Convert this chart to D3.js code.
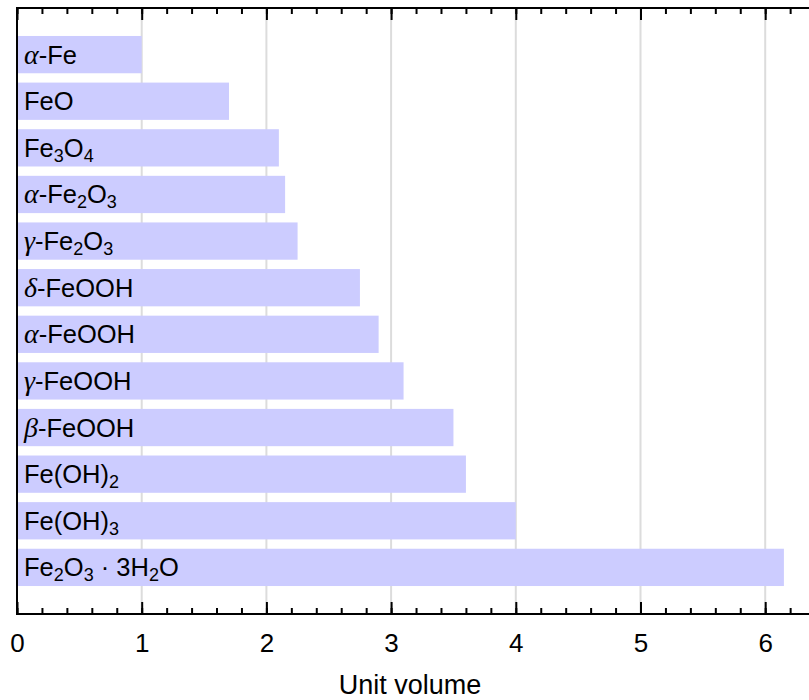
<!DOCTYPE html>
<html>
<head>
<meta charset="utf-8">
<script src="https://cdn.jsdelivr.net/npm/d3@7"></script>
<style>
  body { margin: 0; background: #fff; }
  svg { display: block; font-family: 'Liberation Sans', Arial, sans-serif; }
</style>
</head>
<body>
<div class="chart"></div>
<script>
// categories, top to bottom ("_n" = subscript, greek letters drawn in math italic)
const compounds = [
    'α-Fe', 'FeO', 'Fe_3O_4', 'α-Fe_2O_3', 'γ-Fe_2O_3', 'δ-FeOOH',
    'α-FeOOH', 'γ-FeOOH', 'β-FeOOH', 'Fe(OH)_2', 'Fe(OH)_3', 'Fe_2O_3 · 3H_2O'
];
// unit volume relative to alpha-iron
const unitVolume = [1.0, 1.7, 2.1, 2.15, 2.25, 2.75, 2.9, 3.1, 3.5, 3.6, 4.0, 6.15];
const majorTicks = [0, 1, 2, 3, 4, 5, 6];
const minorTicks = d3.range(0, 63, 2).map(d => d / 10);

const svg_width = 809;
const svg_height = 700;
const plot = { left: 17, right: 809, top: 8, bottom: 614 };

const svg = d3.select('.chart').append('svg')
    .attr('width', svg_width).attr('height', svg_height);

//scales
const xScale = d3.scaleLinear().domain([0, 6.35]).range([plot.left, plot.left + 6.35 * 124.7]);
const yScale = d3.scaleLinear().domain([0, compounds.length + 1]).range([plot.top, plot.bottom]);
const barH = (yScale(1) - yScale(0)) * 0.8;

//grid
svg.append('g').selectAll('line').data(majorTicks.filter(d => d > 0)).enter()
    .append('line')
    .attr('x1', d => xScale(d)).attr('x2', d => xScale(d))
    .attr('y1', plot.top).attr('y2', plot.bottom)
    .style('stroke', '#dcdcdc').style('stroke-width', 2);

//bars
const rows = compounds.map((c, i) => ({ name: c, value: unitVolume[i], pos: i + 1 }));
svg.append('g').selectAll('rect').data(rows).enter()
    .append('rect')
    .attr('x', xScale(0))
    .attr('y', d => yScale(d.pos) - barH / 2)
    .attr('width', d => xScale(d.value) - xScale(0))
    .attr('height', barH)
    .style('fill', '#ccccff');

//labels
const greek = 'αβγδ';
function writeLabel(text, str) {
    const parts = str.match(/_\d|[αβγδ]|[^_αβγδ]+/g);
    let shifted = false;
    parts.forEach(p => {
        const t = text.append('tspan');
        if (p[0] === '_') {
            t.text(p[1]).attr('dy', 5).style('font-size', '18px');
            shifted = true;
        } else {
            t.text(p);
            if (shifted) { t.attr('dy', -5); shifted = false; }
            if (greek.includes(p)) {
                t.style('font-family', "'Liberation Serif', serif")
                    .style('font-style', 'italic').style('font-size', '28px');
            }
        }
    });
}
svg.append('g').selectAll('text').data(rows).enter()
    .append('text')
    .attr('x', 24)
    .attr('y', d => yScale(d.pos) + 9)
    .style('font-size', '25.5px')
    .style('fill', '#000')
    .each(function (d) { writeLabel(d3.select(this), d.name); });

//axes: bottom and mirrored top
const xBottom = d3.axisBottom(xScale).tickValues(majorTicks).tickFormat(d3.format('d'))
    .tickSizeInner(-12).tickSizeOuter(0);
const xBottomMinor = d3.axisBottom(xScale).tickValues(minorTicks).tickSizeInner(-6).tickSizeOuter(0).tickFormat('');
const xTop = d3.axisTop(xScale).tickValues(majorTicks).tickSizeInner(-12).tickSizeOuter(0).tickFormat('');
const xTopMinor = d3.axisTop(xScale).tickValues(minorTicks).tickSizeInner(-6).tickSizeOuter(0).tickFormat('');

[[xBottomMinor, plot.bottom], [xBottom, plot.bottom], [xTopMinor, plot.top], [xTop, plot.top]].forEach(([ax, y]) => {
    const g = svg.append('g').attr('transform', `translate(0,${y})`).call(ax);
    g.select('.domain').remove();
    g.selectAll('.tick line').style('stroke', '#000').style('stroke-width', 2);
});
svg.selectAll('.tick text')
    .attr('y', 0).attr('dy', 0)
    .attr('transform', 'translate(0,38)')
    .style('font-size', '26px').style('font-family', "'Liberation Sans', Arial, sans-serif")
    .style('fill', '#000');

//frame (plot runs off the right edge)
svg.append('path')
    .attr('d', `M${plot.right + 2},${plot.top}H${plot.left}V${plot.bottom}H${plot.right + 2}`)
    .style('fill', 'none').style('stroke', '#000').style('stroke-width', 2);

//axis title
svg.append('text')
    .attr('x', 410).attr('y', 694)
    .attr('text-anchor', 'middle')
    .style('font-size', '27px').style('fill', '#000')
    .text('Unit volume');
</script>
</body>
</html>
